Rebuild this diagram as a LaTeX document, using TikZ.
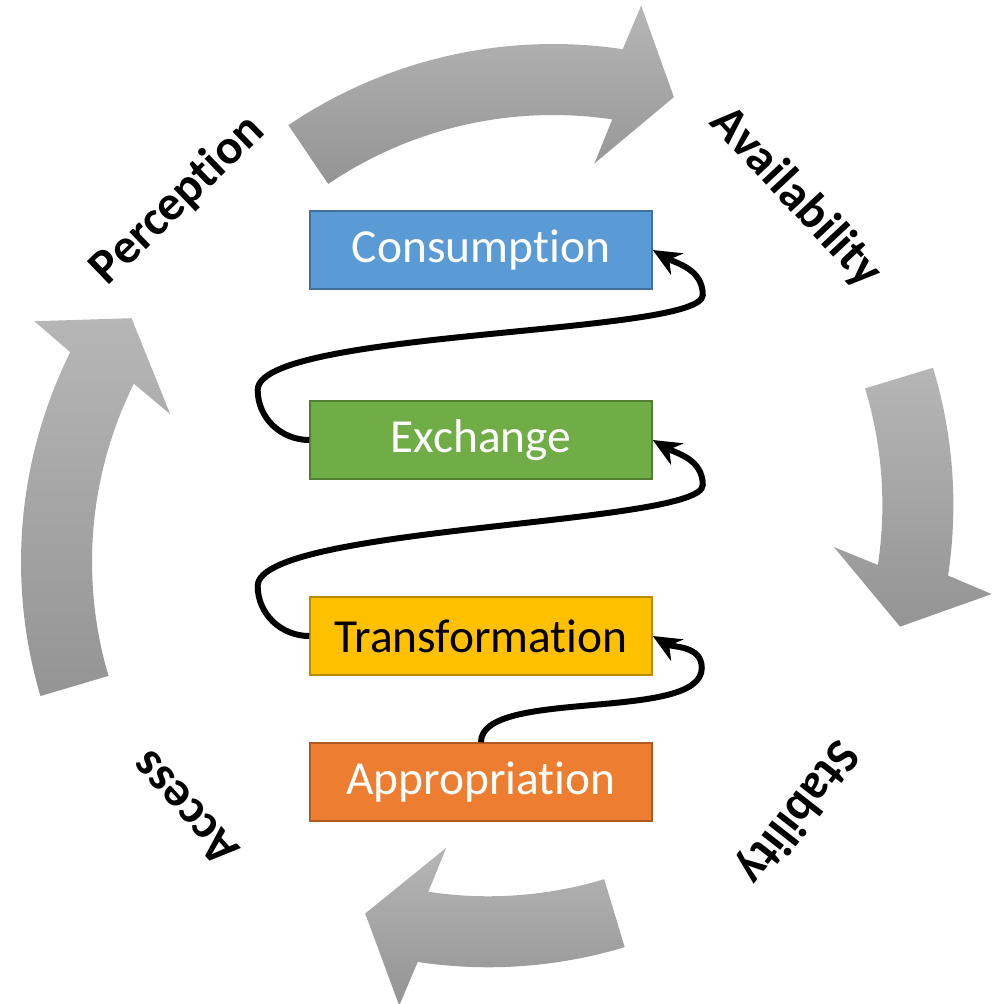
\documentclass[tikz,border=0pt]{standalone}
\usepackage{fontspec}
\setmainfont{Carlito}[Ligatures=NoCommon]
\usetikzlibrary{arrows.meta,calc}

\definecolor{cons}{HTML}{5B9BD5}
\definecolor{consd}{HTML}{41719C}
\definecolor{exch}{HTML}{70AD47}
\definecolor{exchd}{HTML}{507E32}
\definecolor{trans}{HTML}{FFC000}
\definecolor{transd}{HTML}{BC8C00}
\definecolor{appr}{HTML}{ED7D31}
\definecolor{apprd}{HTML}{AE5A21}
\definecolor{bandhi}{RGB}{182,182,182}
\definecolor{bandlo}{RGB}{148,148,148}

\begin{document}
\begin{tikzpicture}[stage/.style={draw, line width=0.9pt, minimum width=6.84cm, minimum height=1.56cm, inner sep=0pt, font=\fontsize{27}{30}\selectfont},
   lbl/.style={font=\bfseries\fontsize{28}{32}\selectfont},
   band/.style={top color=bandhi, bottom color=bandlo},
   flow/.style={line width=3.4pt, -{Stealth[length=16pt,width=14pt]}}]

   \useasboundingbox (-10,-10.04) rectangle (10,10.04);

   \foreach \cx/\cy/\a/\b/\t in {1.06/-0.28/124.1/81.5/73.9, -0.14/-1.2/196.5/153.6/146, -0.372/-0.06/16.9/-8.6/-16.2, -0.234/0.134/-73.2/-98.6/-106.4}
     \shade[band, shift={(\cx,\cy)}] (\a:9.44) arc[start angle=\a, end angle=\b, radius=9.44]
        -- (\b-1.3:10.36) -- (\t:8.72) -- (\b+1.8:7.1) -- (\b:8.02)
        arc[start angle=\b, end angle=\a, radius=8.02] -- cycle;

   \foreach \x/\y/\r/\t in {-6.44/6.04/44/Perception, 5.92/6.1/-47/Availability, 5.94/-6.2/-128/Stability, -6.3/-6.14/132/Access}
     \node [lbl, rotate=\r] (l\t) at (\x,\y) {\t};

   \foreach \y/\f/\d/\c/\t in {5.04/cons/consd/white/Consumption, 1.24/exch/exchd/white/Exchange, -2.68/trans/transd/black/Transformation, -5.6/appr/apprd/white/Appropriation}
     \node [stage, fill=\f, draw=\d, text=\c] (s\t) at (-0.38,\y) {\t};

   \foreach \i/\j in {Exchange/Consumption, Transformation/Exchange}
    \draw[flow] (s\i.west) to[out=180, in=-90] ($(s\i.west)+(-1.03,1)$)
       to[out=90, in=-90, out distance=1.2cm, in distance=0.8cm] ($(s\j.east)+(1,-0.9)$)
       to[out=90, in=-30] (s\j.east);
   \draw[flow] (sAppropriation.north) to[out=90, in=-90, looseness=0.6] ($(sTransformation.east)+(0.98,-0.64)$)
       to[out=90, in=-30] (sTransformation.east);
\end{tikzpicture}
\end{document}
